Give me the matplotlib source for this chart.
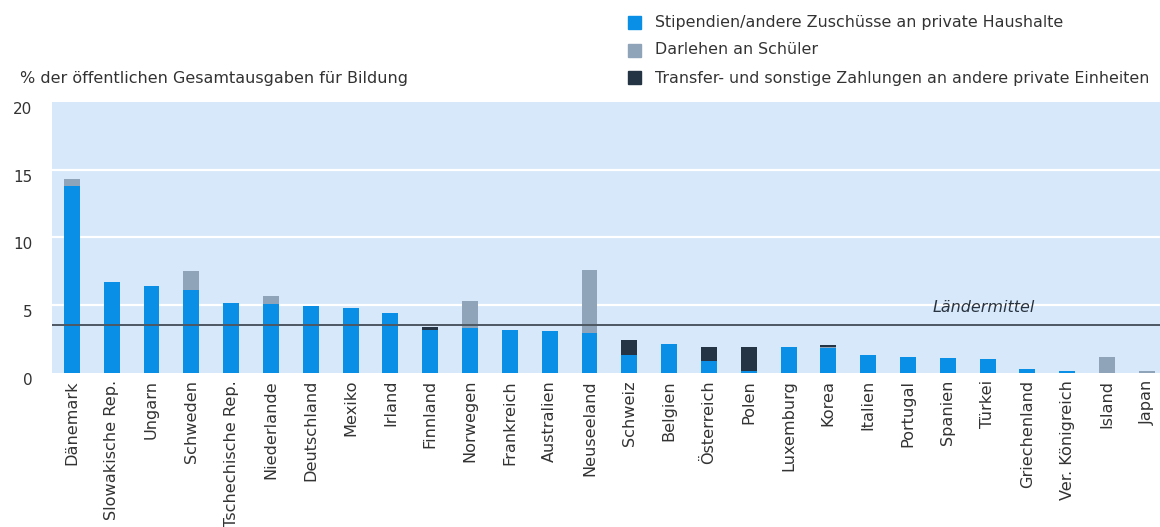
import matplotlib
matplotlib.use("Agg")
import matplotlib.pyplot as plt
import numpy as np

countries = ["Dänemark", "Slowakische Rep.", "Ungarn", "Schweden", "Tschechische Rep.",
             "Niederlande", "Deutschland", "Mexiko", "Irland", "Finnland", "Norwegen",
             "Frankreich", "Australien", "Neuseeland", "Schweiz", "Belgien", "Österreich",
             "Polen", "Luxemburg", "Korea", "Italien", "Portugal", "Spanien", "Türkei",
             "Griechenland", "Ver. Königreich", "Island", "Japan"]

# Stipendien/andere Zuschüsse an private Haushalte
grants = [13.8, 6.7, 6.4, 6.1, 5.2, 5.1, 4.95, 4.8, 4.4, 3.2, 3.35, 3.2, 3.1, 2.95,
          1.3, 2.15, 0.9, 0.15, 1.95, 1.85, 1.35, 1.15, 1.1, 1.0, 0.3, 0.15, 0.0, 0.0]
# Darlehen an Schüler
loans = [0.5, 0.0, 0.0, 1.4, 0.0, 0.6, 0.0, 0.0, 0.0, 0.0, 1.95, 0.0, 0.0, 4.65,
         0.0, 0.0, 0.0, 0.0, 0.0, 0.1, 0.0, 0.0, 0.0, 0.0, 0.0, 0.0, 1.15, 0.15]
# Transfer- und sonstige Zahlungen an andere private Einheiten
transfers = [0.0, 0.0, 0.0, 0.0, 0.0, 0.0, 0.0, 0.0, 0.0, 0.2, 0.0, 0.0, 0.0, 0.0,
             1.15, 0.0, 1.05, 1.8, 0.0, 0.15, 0.0, 0.0, 0.0, 0.0, 0.0, 0.0, 0.0, 0.0]

country_mean = 3.55
yticks = [0, 5, 10, 15, 20]

series_labels = ["Stipendien/andere Zuschüsse an private Haushalte",
                 "Darlehen an Schüler",
                 "Transfer- und sonstige Zahlungen an andere private Einheiten"]
colors = ["#0a8fe6", "#8fa3b9", "#253444"]

plt.rcParams["font.family"] = ["DejaVu Sans"]
text_color = "#333333"

fig = plt.figure(figsize=(11.6, 5.27), dpi=100)
fig.patch.set_facecolor("white")
ax = fig.add_axes([52 / 1160, 154 / 527, 1 - 52 / 1160, 271 / 527])
ax.set_facecolor("#d6e8fa")

x = np.arange(len(countries))
g = np.array(grants)
l = np.array(loans)
t = np.array(transfers)
w = 0.4
ax.bar(x, g, width=w, color=colors[0], zorder=3)
ax.bar(x, l, width=w, bottom=g, color=colors[1], zorder=3)
ax.bar(x, t, width=w, bottom=g + l, color=colors[2], zorder=3)

ax.set_xlim(-0.5, len(countries) - 1 + 0.33)
ax.set_ylim(0, 20)
ax.set_yticks(yticks)
ax.set_yticklabels([str(v) for v in yticks], fontsize=11, color=text_color, va="top")
for v in yticks[1:-1]:
    ax.axhline(v, color="white", lw=1.6, zorder=1)

ax.axhline(country_mean, color="#4d5762", lw=1.4, zorder=4)
ax.text(x[-1] - 4.1, 4.85, "Ländermittel", style="italic",
        fontsize=11.5, color="#2a3440", ha="center", va="center", zorder=5)

ax.set_xticks(x)
ax.set_xticklabels(countries, rotation=90, fontsize=11.6, color=text_color, va="top")
ax.tick_params(axis="both", length=0)
ax.tick_params(axis="y", pad=14)
ax.tick_params(axis="x", pad=5)
for s in ax.spines.values():
    s.set_visible(False)

fig.text(20 / 1160, 1 - 79 / 527, "% der öffentlichen Gesamtausgaben für Bildung",
         fontsize=11.5, color=text_color, ha="left", va="center")

# legend drawn as squares and labels in the top right corner
for i, (lab, c) in enumerate(zip(series_labels, colors)):
    yy = 1 - (22 + 28 * i) / 527
    fig.patches.append(plt.Rectangle((628 / 1160, yy - 6.5 / 527), 13 / 1160, 13 / 527,
                                     transform=fig.transFigure, color=c))
    fig.text(655 / 1160, yy, lab, fontsize=11.4, color=text_color, ha="left", va="center")

fig.savefig("out.png", dpi=100, facecolor="white")
